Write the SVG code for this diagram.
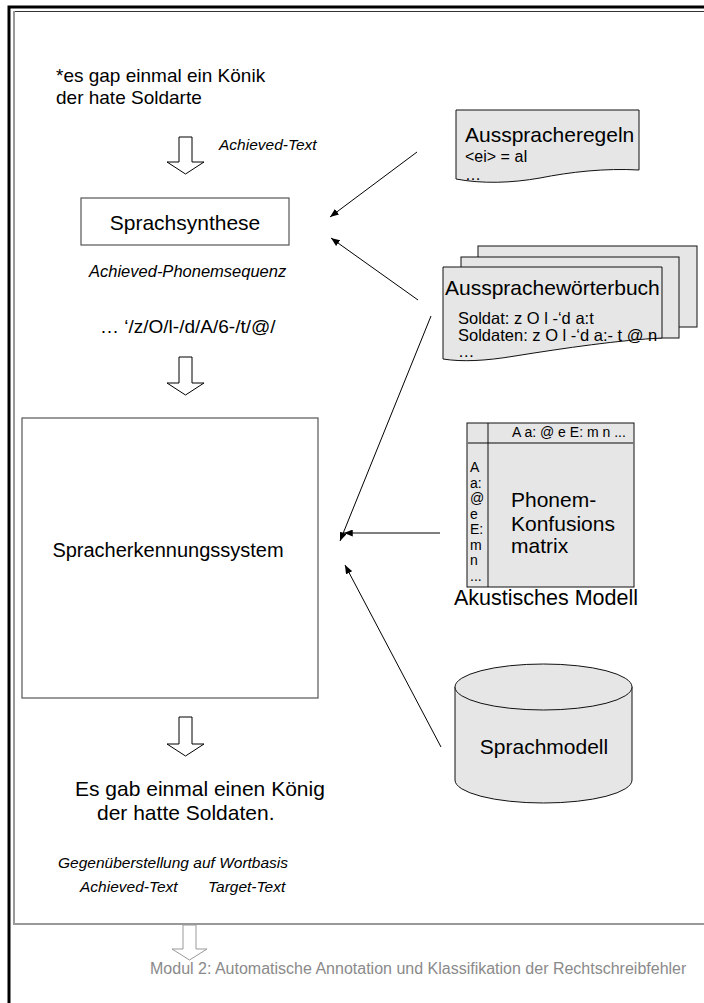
<svg xmlns="http://www.w3.org/2000/svg" width="704" height="1003" viewBox="0 0 704 1003">
  <style>
    text { font-family: "Liberation Sans", Arial, sans-serif; fill: #000; }
    .big { font-size: 21px; }
    .mid { font-size: 19px; }
    .lbl { font-size: 15.5px; font-style: italic; }
    .small { font-size: 16px; }
    .entry { font-size: 16.5px; }
    .tiny { font-size: 14px; }
    .shape { fill: #e6e6e6; stroke: #111; stroke-width: 1; }
    .box { fill: #fff; stroke: #555; stroke-width: 1.2; }
    .hollow { fill: #fff; stroke: #000; stroke-width: 1; }
    .conn line { stroke: #000; stroke-width: 1; marker-end: url(#head); }
  </style>
  <defs>
    <marker id="head" viewBox="0 0 10 8" refX="10" refY="4" markerWidth="9" markerHeight="7" markerUnits="userSpaceOnUse" orient="auto">
      <path d="M0,0 L10,4 L0,8 Z" fill="#000"/>
    </marker>
  </defs>

  <rect width="704" height="1003" fill="#fff"/>

  <!-- frames -->
  <g id="frame">
    <path d="M9,1003 V7 H704" fill="none" stroke="#000" stroke-width="3"/>
    <path d="M14,11.5 H704" fill="none" stroke="#333" stroke-width="1"/>
    <path d="M14,11 V924 H704" fill="none" stroke="#999" stroke-width="2"/>
  </g>

  <!-- input text -->
  <g id="input-text">
    <text class="mid" x="56" y="82">*es gap einmal ein Könik</text>
    <text class="mid" x="56" y="104">der hate Soldarte</text>
  </g>

  <g id="arrow-in">
    <path class="hollow" d="M179,137 H192 V162 H204 L185.5,174 L167,162 H179 Z"/>
    <text class="lbl" x="219" y="150">Achieved-Text</text>
  </g>

  <g id="sprachsynthese">
    <rect class="box" x="81" y="198" width="208" height="47"/>
    <text class="big" x="185" y="230" text-anchor="middle">Sprachsynthese</text>
  </g>

  <g id="phonemsequenz">
    <text class="lbl" x="89" y="277" font-size="16.5" style="font-size:16.5px">Achieved-Phonemsequenz</text>
    <text class="mid" x="100" y="333">… ‘/z/O/l-/d/A/6-/t/@/</text>
  </g>

  <g id="arrow-mid">
    <path class="hollow" d="M179,357 H192 V383 H204 L185.5,395 L167,383 H179 Z"/>
  </g>

  <g id="spracherkennung">
    <rect class="box" x="22" y="418" width="296" height="280"/>
    <text x="168" y="557" font-size="20" text-anchor="middle">Spracherkennungssystem</text>
  </g>

  <g id="arrow-out">
    <path class="hollow" d="M179,717 H192 V744 H204 L185.5,756 L167,744 H179 Z"/>
  </g>

  <g id="output-text">
    <text class="big" x="75" y="796">Es gab einmal einen König</text>
    <text class="big" x="97" y="820">der hatte Soldaten.</text>
  </g>

  <g id="gegenueberstellung">
    <text class="lbl" x="58" y="868">Gegenüberstellung auf Wortbasis</text>
    <text class="lbl" x="80" y="892">Achieved-Text</text>
    <text class="lbl" x="208" y="892">Target-Text</text>
  </g>

  <!-- resources on the right -->
  <g id="ausspracheregeln">
    <path class="shape" d="M456,110 H639 V170 C605,168 570,172 540,178 C512,183 482,184 456,179 Z"/>
    <text class="big" x="465" y="142">Ausspracheregeln</text>
    <text class="small" x="465" y="162">&lt;ei&gt; = aI</text>
    <text class="small" x="465" y="180">…</text>
  </g>

  <g id="aussprachewoerterbuch">
    <rect class="shape" x="478" y="246" width="219" height="81"/>
    <rect class="shape" x="461" y="257" width="218" height="81"/>
    <path class="shape" d="M443,267 H662 V338 C620,340 565,348 515,356 C485,361 462,362 443,359 Z"/>
    <text class="big" x="445" y="295">Aussprachewörterbuch</text>
    <text class="entry" x="458" y="324">Soldat: z O l -‘d a:t</text>
    <text class="entry" x="458" y="341">Soldaten: z O l -‘d a:- t @ n</text>
    <text class="entry" x="458" y="357">…</text>
  </g>

  <g id="akustisches-modell">
    <rect class="shape" x="467" y="423" width="167" height="164"/>
    <line x1="467" y1="443" x2="634" y2="443" stroke="#777" stroke-width="2"/>
    <line x1="488" y1="423" x2="488" y2="587" stroke="#111" stroke-width="1"/>
    <text class="tiny" x="512" y="437">A a: @ e E: m n ...</text>
    <text class="tiny" x="470" y="472">A</text>
    <text class="tiny" x="470" y="487.5">a:</text>
    <text class="tiny" x="470" y="503">@</text>
    <text class="tiny" x="470" y="518.5">e</text>
    <text class="tiny" x="470" y="534">E:</text>
    <text class="tiny" x="470" y="549.5">m</text>
    <text class="tiny" x="470" y="565">n</text>
    <text class="tiny" x="470" y="580.5">...</text>
    <text class="big" x="511" y="507">Phonem-</text>
    <text class="big" x="511" y="531">Konfusions</text>
    <text class="big" x="511" y="553">matrix</text>
    <text x="454" y="605" font-size="21.5">Akustisches Modell</text>
  </g>

  <g id="sprachmodell">
    <path class="shape" d="M455,687 V780 A88.5,23 0 0 0 632,780 V687"/>
    <ellipse class="shape" cx="543.5" cy="687" rx="88.5" ry="23"/>
    <text class="big" x="544" y="754" text-anchor="middle">Sprachmodell</text>
  </g>

  <!-- connectors -->
  <g id="connectors" class="conn">
    <line x1="417" y1="152" x2="330" y2="217"/>
    <line x1="418" y1="300" x2="331" y2="238"/>
    <line x1="431" y1="316" x2="340" y2="541"/>
    <line x1="440" y1="533" x2="344" y2="533"/>
    <line x1="441" y1="747" x2="345" y2="565"/>
  </g>

  <!-- hand-over to the next module -->
  <g id="modul2">
    <path d="M183,925 H196 V949 H207 L189.5,960 L172,949 H183 Z" fill="#fff" stroke="#999" stroke-width="1"/>
    <text x="150" y="974" font-size="16" style="fill:#8a8a8a">Modul 2: Automatische Annotation und Klassifikation der Rechtschreibfehler</text>
  </g>
</svg>
